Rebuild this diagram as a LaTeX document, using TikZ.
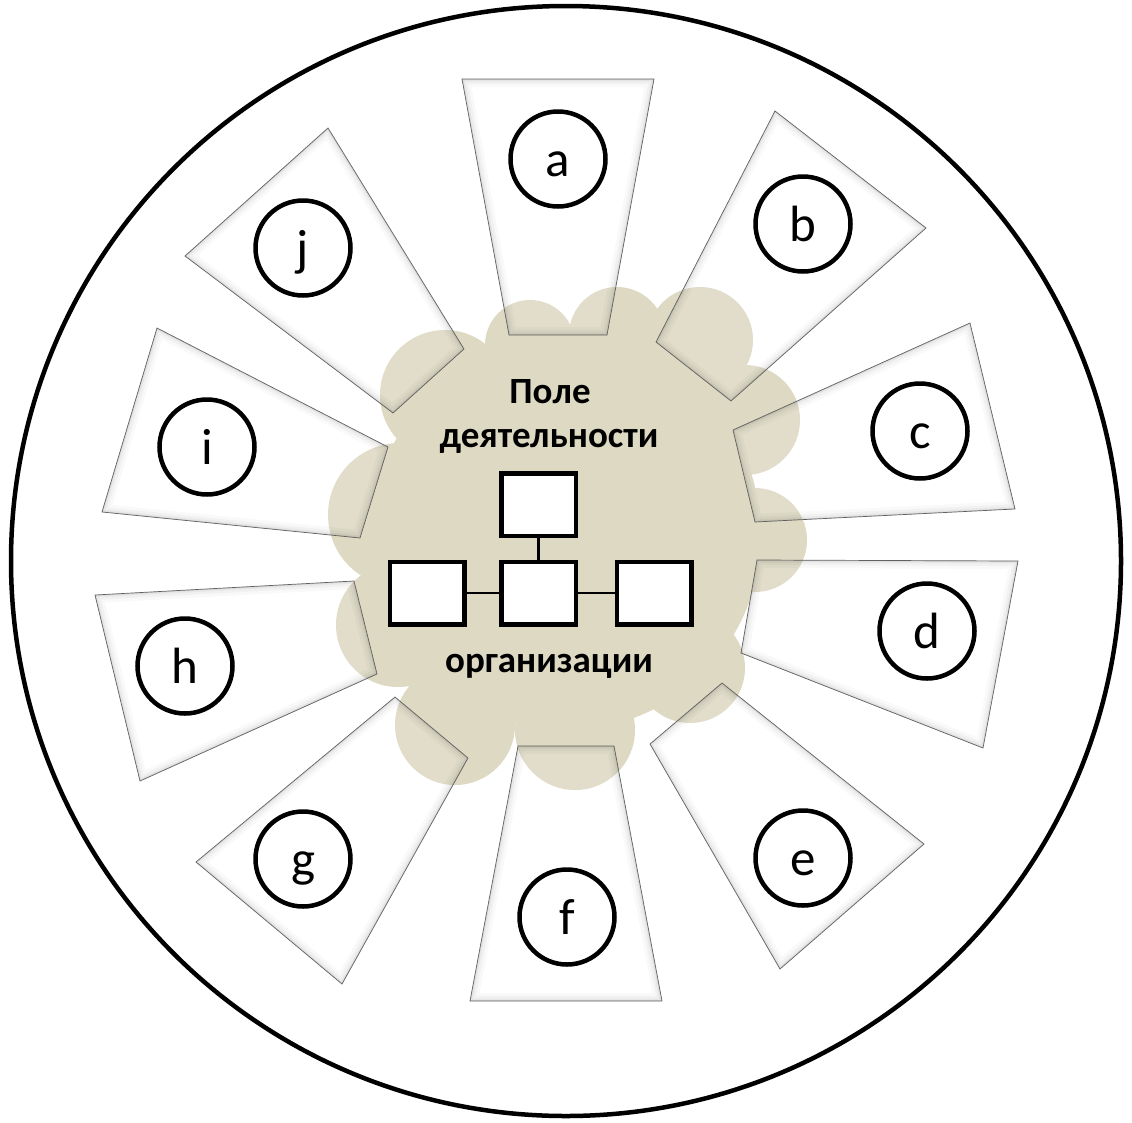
\documentclass[tikz,border=0pt]{standalone}
\usepackage{fontspec}
\setmainfont{Carlito}
\definecolor{cloudtan}{HTML}{DDD9C3}
\tikzset{
  cloudpart/.style={fill=cloudtan},
  trapfill/.style={fill=white, fill opacity=0.12},
  trapbevelA/.style={draw=black, line width=16pt, draw opacity=0.025},
  trapbevelB/.style={draw=black, line width=10pt, draw opacity=0.03},
  trapbevelC/.style={draw=black, line width=5pt, draw opacity=0.04},
  trapbevelD/.style={draw=black, line width=2pt, draw opacity=0.06},
  trapedge/.style={draw=black!62, line width=0.7pt, line join=miter},
  lettercircle/.style={circle, draw=black, line width=4.5pt, minimum size=95pt, inner sep=0pt, fill=none},
  letter/.style={font=\fontsize{51}{58}\selectfont, anchor=base, inner sep=0pt},
  orgbox/.style={draw=black, line width=4.5pt, fill=white, minimum width=74.5pt, minimum height=62.5pt, inner sep=0pt},
  orgline/.style={draw=black, line width=2.5pt},
  centertext/.style={font=\bfseries\fontsize{37}{44}\selectfont, anchor=base, inner sep=0pt},
  bigring/.style={draw=black, line width=4.5pt}
}
\newcommand\mytrap[7]{%
  \begin{scope}
    \path[trapfill] #1 -- #2 -- #3 -- #4 -- cycle;
    \clip #1 -- #2 -- #3 -- #4 -- cycle;
    \path[trapbevelA] #1 -- #2 -- #3 -- #4 -- cycle;
    \path[trapbevelB] #1 -- #2 -- #3 -- #4 -- cycle;
    \path[trapbevelC] #1 -- #2 -- #3 -- #4 -- cycle;
    \path[trapbevelD] #1 -- #2 -- #3 -- #4 -- cycle;
  \end{scope}
  \path[trapedge] #1 -- #2 -- #3 -- #4 -- cycle;
  \node[lettercircle] (#7) at #5 {};
  \node[letter] (#7-t) at (#7.center) [yshift=-17pt] {#6};
}
\begin{document}
\begin{tikzpicture}[x=1pt, y=-1pt]
\useasboundingbox (0,0) rectangle (1132,1122);
\fill[white] (0,0) rectangle (1132,1122);
% outer ring
\path[bigring] (566,561) circle[radius=555];
% cloud
\fill[cloudpart] (566,535) ellipse[x radius=195, y radius=195];
\fill[cloudpart] (530,345) circle[radius=45];
\fill[cloudpart] (617,335) circle[radius=48];
\fill[cloudpart] (700,340) circle[radius=53];
\fill[cloudpart] (745,420) circle[radius=55];
\fill[cloudpart] (755,540) circle[radius=52];
\fill[cloudpart] (690,668) circle[radius=55];
\fill[cloudpart] (575,730) circle[radius=60];
\fill[cloudpart] (455,725) circle[radius=60];
\fill[cloudpart] (398,625) circle[radius=62];
\fill[cloudpart] (400,515) circle[radius=72];
\fill[cloudpart] (445,395) circle[radius=65];
% trapezoids
\mytrap{(462,79)}{(654,79)}{(607,335)}{(509,335)}{(558,159)}{a}{ca}
\mytrap{(775,111)}{(926,228)}{(731,401)}{(656,342)}{(803,224)}{b}{cb}
\mytrap{(970,323)}{(1015,509)}{(755,522)}{(733,430)}{(920,431)}{c}{cc}
\mytrap{(1018,561)}{(983,748)}{(741,653)}{(757,560)}{(927,631)}{d}{cd}
\mytrap{(924,844)}{(780,969)}{(650,744)}{(722,683)}{(803,858)}{e}{ce}
\mytrap{(662,1001)}{(470,1001)}{(518,746)}{(614,746)}{(567,917)}{f}{cf}
\mytrap{(342,984)}{(196,862)}{(395,697)}{(468,758)}{(303,859)}{g}{cg}
\mytrap{(140,781)}{(95,595)}{(354,581)}{(377,674)}{(185,666)}{h}{ch}
\mytrap{(102,512)}{(157,328)}{(388,447)}{(360,538)}{(207,447)}{i}{ci}
\mytrap{(185,256)}{(328,128)}{(464,349)}{(393,413)}{(303,248)}{j}{cj}
% center texts
\node[centertext] (t1) at (550,403) {Поле};
\node[centertext] (t2) at (549,447) {деятельности};
\node[centertext] (t3) at (549,672) {организации};
% org chart
\coordinate (ptop) at (538.5,504.5);
\coordinate (pmid) at (538.5,593);
\coordinate (pleft) at (427,593);
\coordinate (pright) at (654,593);
\draw[orgline] (ptop) -- (pmid);
\draw[orgline] (pleft) -- (pright);
\node[orgbox] (otop) at (ptop) {};
\node[orgbox] (omid) at (pmid) {};
\node[orgbox] (oleft) at (pleft) {};
\node[orgbox] (oright) at (pright) {};
\end{tikzpicture}
\end{document}
